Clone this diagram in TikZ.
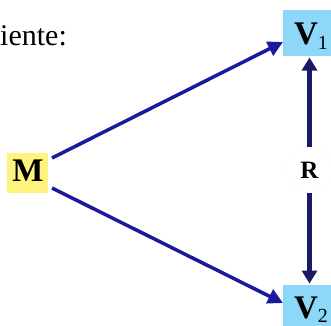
\documentclass[tikz,border=0pt]{standalone}
\usepackage{fontspec}
\setmainfont{Liberation Serif}
\usetikzlibrary{arrows.meta,calc}
\definecolor{boxblue}{HTML}{8DD8F8}
\definecolor{boxyellow}{HTML}{FFF380}
\definecolor{diagblue}{HTML}{1A1A9B}
\definecolor{vertblue}{HTML}{1A1A66}
\tikzset{
  vbox/.style={fill=boxblue, draw=none, minimum width=48pt, minimum height=46pt, inner sep=0pt, outer sep=0pt},
  mbox/.style={fill=boxyellow, draw=none, minimum width=41pt, minimum height=40pt, inner sep=0pt, outer sep=0pt},
  lbl/.style={inner sep=0pt, outer sep=0pt, font=\fontsize{33pt}{33pt}\selectfont\bfseries},
  rnode/.style={circle, fill=white, draw=black!1, minimum size=46pt, inner sep=0pt, outer sep=0pt, font=\fontsize{25pt}{25pt}\selectfont\bfseries},
  diag/.style={draw=diagblue, line width=3.5pt, -{Triangle[length=15pt,width=15pt]}, color=diagblue},
  vert/.style={draw=vertblue, line width=4.5pt, -{Triangle[length=13pt,width=15pt]}, color=vertblue},
}
\begin{document}
\begin{tikzpicture}[x=1pt,y=-1pt]
\useasboundingbox (0,0) rectangle (331,325);
% boxes
\node[vbox] (V1) at (307,33) {};
\node[vbox] (V2) at (307,308) {};
\node[mbox] (M) at (27.5,173) {};
% labels
\node[lbl, anchor=base west] (V1t) at (294,44) {V\raisebox{-5pt}{\fontsize{20pt}{20pt}\selectfont\mdseries 1}};
\node[lbl, anchor=base west] (V2t) at (294,318) {V\raisebox{-4pt}{\fontsize{20pt}{20pt}\selectfont\mdseries 2}};
\node[lbl, anchor=base] (Mt) at (28,181) {M};
\node[rnode] (R) at (309.5,170) {R};
\node[anchor=base west, inner sep=0pt, font=\fontsize{30pt}{30pt}\selectfont] (txt) at (0,45) {iente:};
% connectors
\coordinate (m1) at ($(M.east)+(4,-15)$);
\coordinate (m2) at ($(M.east)+(4,15)$);
\coordinate (v1in) at ($(V1.west)+(0,9)$);
\coordinate (v2in) at ($(V2.west)+(0,-5)$);
\draw[diag] (m1) -- (v1in);
\draw[diag] (m2) -- (v2in);
\draw[vert] (R.north) -- ($(R.north |- V1.south)+(0,1.5)$);
\draw[vert] (R.south) -- ($(R.south |- V2.north)+(0,-1.5)$);
\end{tikzpicture}
\end{document}
